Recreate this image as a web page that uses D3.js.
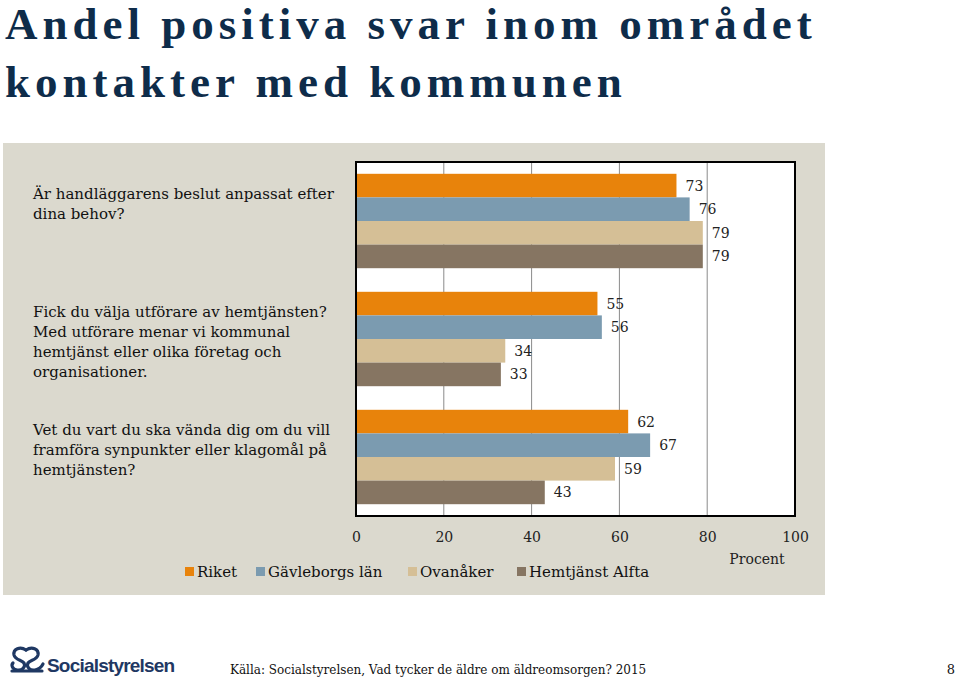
<!DOCTYPE html>
<html><head><meta charset="utf-8">
<script src="https://cdn.jsdelivr.net/npm/d3@7"></script>
<style>
body{margin:0;background:#fff;}
svg{display:block;}
</style></head>
<body>
<script>
const categories = [
  ["Är handläggarens beslut anpassat efter", "dina behov?"],
  ["Fick du välja utförare av hemtjänsten?", "Med utförare menar vi kommunal", "hemtjänst eller olika företag och", "organisationer."],
  ["Vet du vart du ska vända dig om du vill", "framföra synpunkter eller klagomål på", "hemtjänsten?"]
];
const seriesNames = ["Riket", "Gävleborgs län", "Ovanåker", "Hemtjänst Alfta"];
const riket = [73, 55, 62];
const gavleborg = [76, 56, 67];
const ovanaker = [79, 34, 59];
const alfta = [79, 33, 43];
const tickValues = [0, 20, 40, 60, 80, 100];
const axisTitle = "Procent";
const titleLines = ["Andel positiva svar inom området", "kontakter med kommunen"];
const source = "Källa: Socialstyrelsen, Vad tycker de äldre om äldreomsorgen? 2015";
const pageNo = "8";

const seriesValues = [riket, gavleborg, ovanaker, alfta];
const colors = ["#e8830b", "#7b9bb0", "#d5bf96", "#867562"];

const W = 960, H = 683;
const svg = d3.select("body").append("svg").attr("width", W).attr("height", H);
const serif = "'DejaVu Serif', serif";

// Title
svg.append("g").selectAll("text").data(titleLines).join("text")
  .attr("x", 5).attr("y", (d, i) => 39 + i * 58)
  .attr("font-family", "'Liberation Serif', serif")
  .attr("font-weight", "bold")
  .attr("font-size", 45)
  .attr("letter-spacing", 5)
  .attr("fill", "#0e2c4a")
  .text(d => d);

// Panel
svg.append("rect").attr("x", 3).attr("y", 143).attr("width", 822).attr("height", 452).attr("fill", "#dbd9ce");

const plot = {left: 356, right: 795, top: 162, bottom: 516};
const x = d3.scaleLinear().domain([0, 100]).range([plot.left, plot.right]);
const y0 = d3.scaleBand().domain(d3.range(categories.length)).range([plot.top, plot.bottom]).paddingInner(0.2).paddingOuter(0.1);
const y1 = d3.scaleBand().domain(d3.range(seriesNames.length)).range([0, y0.bandwidth()]);

svg.append("rect").attr("x", plot.left).attr("y", plot.top).attr("width", plot.right - plot.left).attr("height", plot.bottom - plot.top).attr("fill", "#fff");

// gridlines
svg.append("g").selectAll("line").data(tickValues.slice(1, -1)).join("line")
  .attr("x1", d => x(d)).attr("x2", d => x(d))
  .attr("y1", plot.top).attr("y2", plot.bottom)
  .attr("stroke", "#8a8a8a").attr("stroke-width", 1);

// bars
const groups = svg.append("g").selectAll("g").data(categories).join("g")
  .attr("transform", (d, i) => `translate(0,${y0(i)})`);
groups.each(function(cat, ci) {
  const g = d3.select(this);
  const vals = seriesValues.map((s, si) => ({si, v: s[ci]}));
  g.selectAll("rect").data(vals).join("rect")
    .attr("x", x(0)).attr("y", d => y1(d.si))
    .attr("width", d => x(d.v) - x(0)).attr("height", y1.bandwidth())
    .attr("fill", d => colors[d.si]);
  g.selectAll("text").data(vals).join("text")
    .attr("x", d => x(d.v) + 9).attr("y", d => y1(d.si) + y1.bandwidth() / 2 + 5)
    .attr("font-family", serif).attr("font-size", 14).attr("fill", "#222")
    .text(d => d.v);
});

// border
svg.append("rect").attr("x", plot.left).attr("y", plot.top).attr("width", plot.right - plot.left).attr("height", plot.bottom - plot.top)
  .attr("fill", "none").attr("stroke", "#000").attr("stroke-width", 2);

// category labels (top-aligned to each group band)
const lineH = 20;
svg.append("g").selectAll("text").data(categories).join("text")
  .attr("font-family", serif).attr("font-size", 15).attr("fill", "#111").attr("letter-spacing", 0)
  .each(function(lines, i) {
    const startY = y0(i) + 25;
    d3.select(this).selectAll("tspan").data(lines).join("tspan")
      .attr("x", 33).attr("y", (d, j) => startY + j * lineH).text(d => d);
  });

// axis
const axis = d3.axisBottom(x).tickValues(tickValues).tickSize(0).tickPadding(0);
const ag = svg.append("g").attr("transform", `translate(0,${plot.bottom + 26})`).call(axis);
ag.select(".domain").remove();
ag.selectAll("text").attr("font-family", serif).attr("font-size", 14).attr("fill", "#222").attr("dy", 0);

svg.append("text").attr("x", 757).attr("y", 564).attr("text-anchor", "middle")
  .attr("font-family", serif).attr("font-size", 14).attr("fill", "#222").text(axisTitle);

// legend
const legendX = [185, 256, 408, 517];
const lg = svg.append("g").selectAll("g").data(seriesNames).join("g")
  .attr("transform", (d, i) => `translate(${legendX[i]},572)`);
lg.append("rect").attr("x", 0).attr("y", -5).attr("width", 9).attr("height", 9).attr("fill", (d, i) => colors[i]);
lg.append("text").attr("x", 12).attr("y", 5).attr("font-family", serif).attr("font-size", 15).attr("fill", "#111").text(d => d);

// footer logo
const logo = svg.append("g").attr("transform", "translate(10,647)").attr("fill", "none").attr("stroke", "#1f3863").attr("stroke-width", 3.2).attr("stroke-linecap", "round");
logo.append("path").attr("d", "M16 3 C10 -1 3 2 4 8 C5 13 12 13 14 16 C16 20 12 24 7 23 C2 22 1 18 3 16");
logo.append("path").attr("d", "M16 3 C22 -1 29 2 28 8 C27 13 20 13 18 16 C16 20 20 24 25 23 C30 22 32 19 33 17");
logo.append("path").attr("d", "M2 24 L32 24");
svg.append("text").attr("x", 47).attr("y", 672).attr("font-family", "'Liberation Sans', sans-serif").attr("font-weight", "bold")
  .attr("font-size", 19).attr("letter-spacing", -0.8).attr("fill", "#1f3863").text("Socialstyrelsen");

svg.append("text").attr("x", 230).attr("y", 674).attr("font-family", serif).attr("font-size", 12).attr("fill", "#111").text(source);
svg.append("text").attr("x", 955).attr("y", 674).attr("text-anchor", "end").attr("font-family", serif).attr("font-size", 13).attr("fill", "#111").text(pageNo);
</script>
</body></html>
